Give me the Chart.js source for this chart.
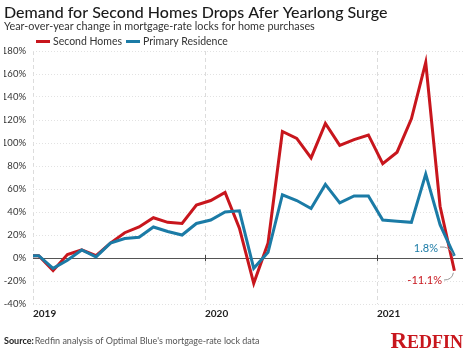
<!DOCTYPE html>
<html>
<head>
<meta charset="utf-8">
<script src="https://cdn.jsdelivr.net/npm/chart.js@4.4.1/dist/chart.umd.min.js"></script>
<style>
  html, body { margin: 0; padding: 0; background: #fff; }
  #wrap { width: 465px; height: 351px; position: relative; }
</style>
</head>
<body>
<div id="wrap"><canvas id="chart" width="465" height="351"></canvas></div>
<script>
// months since Jan 2019 for each reading
const months = [0, 0.4, 1.4, 2.4, 3.4, 4.4, 5.4, 6.4, 7.4, 8.4, 9.4, 10.4, 11.4, 12.4, 13.4, 14.4,
  15.4, 16.4, 17.4, 18.4, 19.4, 20.4, 21.4, 22.4, 23.4, 24.4, 25.4, 26.4, 27.4, 28.4, 29.4];
const secondHomes = [2, 2, -11, 3, 7, 2, 13, 22, 27, 35, 31, 30, 46, 50, 57, 26,
  -22, 13, 110, 104, 87, 117, 98, 103, 107, 82, 92, 121, 170, 45, -11.1];
const primaryResidence = [2, 2, -9, -2, 7, 1, 13, 17, 18, 27, 23, 20, 30, 33, 40, 41,
  -9, 5, 55, 50, 43, 64, 48, 54, 54, 33, 32, 31, 73, 29, 1.8];
const yearTicks = [0, 12, 24];
const yearLabels = ['2019', '2020', '2021'];

const RED = '#c8161d';
const BLUE = '#1b7ba6';
const FONT = 'Lato, "Open Sans", sans-serif';

const toPoints = (vals) => vals.map((v, i) => ({ x: months[i], y: v }));

// titles, legend, end labels, source and logo
const decor = {
  id: 'decor',
  afterDraw(chart) {
    const ctx = chart.ctx;
    ctx.save();
    ctx.textBaseline = 'middle';
    ctx.textAlign = 'left';

    ctx.fillStyle = '#1a1a1a';
    ctx.font = '500 16px ' + FONT;
    ctx.fillText('Demand for Second Homes Drops Afer Yearlong Surge', 4, 13);
    ctx.fillStyle = '#333';
    ctx.font = '10.8px ' + FONT;
    ctx.fillText('Year-over-year change in mortgage-rate locks for home purchases', 4, 27);

    // legend
    ctx.font = '10.5px ' + FONT;
    const items = [['Second Homes', RED, 36], ['Primary Residence', BLUE, 126]];
    items.forEach(([label, color, x]) => {
      ctx.fillStyle = color;
      ctx.fillRect(x, 40, 14, 3);
      ctx.fillStyle = '#333';
      ctx.fillText(label, x + 17, 42);
    });

    // small ticks on the zero line
    const xs = chart.scales.x, ys = chart.scales.y;
    const y0 = ys.getPixelForValue(0);
    ctx.strokeStyle = '#444';
    ctx.lineWidth = 1;
    yearTicks.slice(1).forEach(t => {
      const px = Math.round(xs.getPixelForValue(t)) + 0.5;
      ctx.beginPath(); ctx.moveTo(px, y0 - 3); ctx.lineTo(px, y0 + 3); ctx.stroke();
    });

    // end labels
    const redEnd = chart.getDatasetMeta(0).data[secondHomes.length - 1];
    const blueEnd = chart.getDatasetMeta(1).data[primaryResidence.length - 1];
    ctx.font = '11px ' + FONT;
    ctx.textAlign = 'right';
    ctx.fillStyle = BLUE;
    ctx.fillText(primaryResidence[primaryResidence.length - 1].toFixed(1) + '%', 438, 248);
    ctx.fillStyle = RED;
    ctx.fillText(secondHomes[secondHomes.length - 1].toFixed(1) + '%', 442, 280);
    ctx.strokeStyle = '#999';
    ctx.beginPath();
    ctx.moveTo(440, 247);
    ctx.quadraticCurveTo(450, 246, blueEnd.x - 1, blueEnd.y - 1);
    ctx.stroke();
    ctx.beginPath();
    ctx.moveTo(444, 280);
    ctx.quadraticCurveTo(452, 280, redEnd.x - 1, redEnd.y + 2);
    ctx.stroke();

    // source
    ctx.textAlign = 'left';
    ctx.font = 'bold 9px ' + FONT;
    ctx.fillStyle = '#222';
    ctx.fillText('Source:', 4, 341);
    const w = ctx.measureText('Source:').width;
    ctx.font = '9px ' + FONT;
    ctx.fillStyle = '#555';
    ctx.fillText("Redfin analysis of Optimal Blue's mortgage-rate lock data", 4 + w + 1, 341);

    // logo
    ctx.fillStyle = RED;
    ctx.textBaseline = 'alphabetic';
    ctx.textAlign = 'right';
    ctx.font = 'bold 18px "Liberation Serif", serif';
    const rest = 'EDFIN';
    const rw = ctx.measureText(rest).width;
    ctx.fillText(rest, 463, 348);
    ctx.font = 'bold 23px "Liberation Serif", serif';
    ctx.fillText('R', 463 - rw, 348);

    ctx.restore();
  }
};

new Chart(document.getElementById('chart'), {
  type: 'line',
  data: {
    datasets: [
      {
        label: 'Second Homes',
        data: toPoints(secondHomes),
        borderColor: RED,
        borderWidth: 3,
        pointRadius: 0,
        tension: 0,
        order: 1
      },
      {
        label: 'Primary Residence',
        data: toPoints(primaryResidence),
        borderColor: BLUE,
        borderWidth: 3,
        pointRadius: 0,
        tension: 0,
        order: 0
      }
    ]
  },
  plugins: [decor],
  options: {
    responsive: false,
    animation: false,
    devicePixelRatio: 1,
    layout: { padding: { top: 51, left: 4, right: 2, bottom: 27 } },
    plugins: {
      legend: { display: false },
      tooltip: { enabled: false },
      title: { display: false }
    },
    scales: {
      x: {
        type: 'linear',
        min: 0,
        max: 30,
        afterBuildTicks: (scale) => { scale.ticks = yearTicks.map(v => ({ value: v })); },
        afterFit: (scale) => { scale.height = 20; },
        grid: { color: '#dcdcdc', drawTicks: false },
        border: { display: false, dash: [4, 3] },
        ticks: {
          align: 'start',
          padding: 4,
          color: '#222',
          font: { family: FONT, size: 10, weight: 'bold' },
          callback: (v) => yearLabels[yearTicks.indexOf(v)]
        }
      },
      y: {
        min: -40,
        max: 180,
        afterFit: (scale) => { scale.width = 29; },
        grid: {
          drawTicks: false,
          color: (c) => c.tick && c.tick.value === 0 ? '#555' : '#e2e2e2',
          lineWidth: 1
        },
        border: {
          display: false,
          dash: (c) => c.tick && c.tick.value === 0 ? [] : [1, 2]
        },
        ticks: {
          stepSize: 20,
          padding: 7,
          color: '#333',
          font: { family: FONT, size: 9.5 },
          callback: (v) => v + '%'
        }
      }
    }
  }
});
</script>
</body>
</html>
